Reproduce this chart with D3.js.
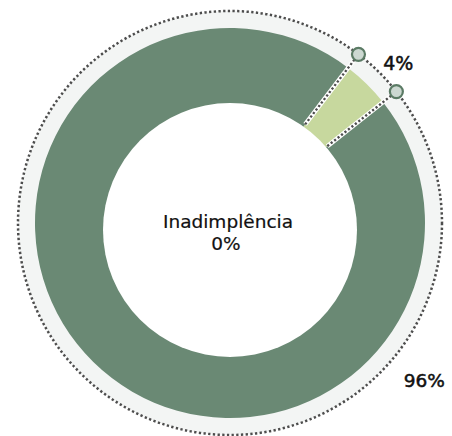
<!DOCTYPE html>
<meta charset="utf-8">
<script src="https://d3js.org/d3.v7.min.js"></script>
<style>
  body { margin: 0; background: #fff; }
  svg { display: block; }
  text { font-family: "DejaVu Sans", sans-serif; fill: #111; }
</style>
<body>
<svg id="chart" width="452" height="436"></svg>
<script>
  // slice data, in draw order (pie starts at the 4% slice)
  var categories = ["Inadimplência", "Adimplência"];
  var values = [4, 96];
  var labels = ["4%", "96%"];
  var centerTitle = "Inadimplência";
  var centerValue = "0%";

  var colors = ["#c7d89e", "#6a8974"];

  var cx = 230, cy = 223,
      outerR = 195,
      bandR = 212,
      holeCx = 230, holeCy = 230, holeR = 127,
      startAngle = 37.3 * Math.PI / 180;

  var svg = d3.select("#chart");

  // light band behind the ring
  svg.append("circle")
      .attr("cx", cx).attr("cy", cy).attr("r", bandR)
      .style("fill", "#f3f5f4");

  // dotted outline
  svg.append("circle")
      .attr("cx", cx).attr("cy", cy).attr("r", bandR)
      .style("fill", "none")
      .style("stroke", "#4d4d4d")
      .style("stroke-width", 2.5)
      .style("stroke-dasharray", "2.3,2.4");

  var g = svg.append("g")
      .attr("transform", "translate(" + cx + "," + cy + ")");

  var pie = d3.pie()
      .sort(null)
      .startAngle(startAngle)
      .endAngle(startAngle + 2 * Math.PI)
      .value(function(d) { return d; });

  var arcs = pie(values);

  var arc = d3.arc()
      .innerRadius(60)
      .outerRadius(outerR);

  g.selectAll(".slice")
      .data(arcs)
    .enter().append("path")
      .attr("class", "slice")
      .attr("d", arc)
      .style("fill", function(d, i) { return colors[i]; });

  // hole
  svg.append("circle")
      .attr("cx", holeCx).attr("cy", holeCy).attr("r", holeR)
      .style("fill", "#fff");

  // slice boundaries of the small slice
  var bounds = [arcs[0].startAngle, arcs[0].endAngle];
  function pt(a, r) { return [Math.sin(a) * r, -Math.cos(a) * r]; }

  bounds.forEach(function(a) {
    var p0 = pt(a, 124), p1 = pt(a, bandR);
    g.append("line")
        .attr("x1", p0[0]).attr("y1", p0[1])
        .attr("x2", p1[0]).attr("y2", p1[1])
        .style("stroke", "#fff")
        .style("stroke-width", 4.5);
    g.append("line")
        .attr("x1", p0[0]).attr("y1", p0[1])
        .attr("x2", p1[0]).attr("y2", p1[1])
        .style("stroke", "#4d4d4d")
        .style("stroke-width", 2.4)
        .style("stroke-dasharray", "2.2,2.2");
  });

  bounds.forEach(function(a) {
    var p = pt(a, bandR);
    g.append("circle")
        .attr("cx", p[0]).attr("cy", p[1]).attr("r", 6.5)
        .style("fill", "#ccd8d1")
        .style("stroke", "#5b7b65")
        .style("stroke-width", 2.2);
  });

  // slice labels
  var labelAngles = [46.5, 129];
  var labelRadii = [232, 250];
  var labelSizes = [19, 18.5];
  labels.forEach(function(t, i) {
    var p = pt(labelAngles[i] * Math.PI / 180, labelRadii[i]);
    g.append("text")
        .attr("x", p[0]).attr("y", p[1])
        .attr("text-anchor", "middle")
        .attr("dy", "0.36em")
        .style("font-size", labelSizes[i] + "px")
        .style("stroke", "#111")
        .style("stroke-width", 0.5)
        .text(t);
  });

  // center text
  svg.append("text")
      .attr("x", 228).attr("y", 228)
      .attr("text-anchor", "middle")
      .style("font-size", "18.5px")
      .style("stroke", "#111")
      .style("stroke-width", 0.2)
      .text(centerTitle);
  svg.append("text")
      .attr("x", 226).attr("y", 250)
      .attr("text-anchor", "middle")
      .style("font-size", "18.5px")
      .style("stroke", "#111")
      .style("stroke-width", 0.2)
      .text(centerValue);
</script>
</body>
